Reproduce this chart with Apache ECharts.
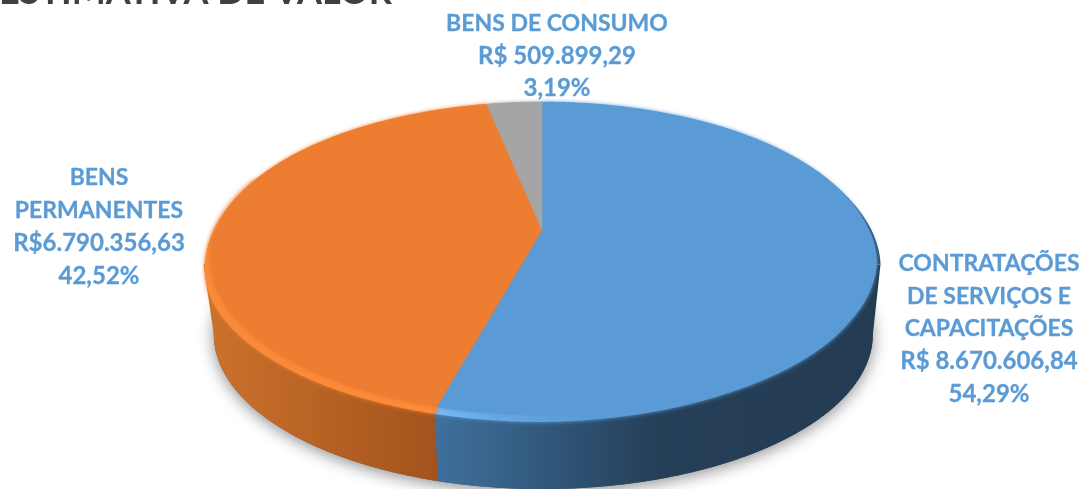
<!DOCTYPE html>
<html>
<head>
<meta charset="utf-8">
<style>
  html, body { margin: 0; padding: 0; background: #fff; }
  #chart { width: 1081px; height: 489px; }
</style>
</head>
<body>
<div id="chart"></div>
<script src="https://cdn.jsdelivr.net/npm/echarts@6/dist/echarts.min.js"></script>
<script>
// valores
const categories = ['CONTRATAÇÕES\nDE SERVIÇOS E\nCAPACITAÇÕES', 'BENS DE CONSUMO', 'BENS\nPERMANENTES'];
const values = [8670606.84, 509899.29, 6790356.63];
const valueLabels = ['R$ 8.670.606,84', 'R$ 509.899,29', 'R$6.790.356,63'];
const percentLabels = ['54,29%', '3,19%', '42,52%'];

// ordem de desenho no sentido horario a partir do topo: azul, laranja, cinza
const sliceOrder = [0, 2, 1];

const faceColors = ['#5B9BD5', '#A5A5A5', '#ED7D31'];
const rimColors = [
  [[0, '#78BCFA'], [0.15, '#66A9E6'], [0.35, '#5B9BD5'], [1, '#5B9BD5']],
  [[0, '#A5A5A5'], [1, '#A5A5A5']],
  [[0, '#F98A39'], [1, '#FF8C3A']]
];
const wallColors = [
  [[0, '#40709E'], [0.28, '#2F5577'], [0.5, '#263F58'], [1, '#233C52']],
  [[0, '#7A7A7A'], [1, '#6A6A6A']],
  [[0, '#CC722C'], [1, '#A2521C']]
];
const labelAnchors = [[989, 329], [557, 56], [99, 227]];

// disco em perspectiva
const CX = 542, CY = 230;
const A = 326, B = 151.3, K = 0.182;
const DEG = Math.PI / 180;

function project(angle, sx, sy, dy) {
  const u = Math.sin(angle), v = -Math.cos(angle);
  const d = 1 - K * v;
  return [CX + A * sx * u / d, CY + dy + B * sy * v / d];
}

function arc(a0, a1, sx, sy, dy) {
  const pts = [];
  const n = Math.max(2, Math.ceil((a1 - a0) / 0.01));
  for (let i = 0; i <= n; i++) {
    pts.push(project(a0 + (a1 - a0) * i / n, sx, sy, dy));
  }
  return pts;
}

function bottomArc(a0, a1) {
  const pts = [];
  const n = Math.max(2, Math.ceil((a1 - a0) / 0.01));
  for (let i = 0; i <= n; i++) {
    const a = a0 + (a1 - a0) * i / n;
    pts.push(project(a, Math.sin(a) > 0 ? 0.998 : 0.99, 0.99, 76));
  }
  return pts;
}

function clamp01(t) {
  return Math.max(0, Math.min(1, t));
}

// deslocamento do friso em cada angulo: some aos poucos na parte de tras
function rimPoint(a) {
  if (a < Math.PI) {
    const fade = clamp01((a - 50 * DEG) / (40 * DEG));
    const grow = 0.01 * fade * clamp01((120 * DEG - a) / (20 * DEG));
    const dy = fade * (5 + 2 * clamp01((a - 150 * DEG) / (30 * DEG)));
    return project(a, 1 + grow, 1, dy);
  }
  const t = clamp01((300 * DEG - a) / (50 * DEG));
  return project(a, 1 + 0.021 * t, 1, 7 * t);
}

function rimArc(a0, a1) {
  const pts = [];
  const n = Math.max(2, Math.ceil((a1 - a0) / 0.01));
  for (let i = 0; i <= n; i++) {
    pts.push(rimPoint(a0 + (a1 - a0) * i / n));
  }
  return pts;
}

function gradient(stops, x0, x1) {
  return {
    type: 'linear', global: true, x: x0, y: 0, x2: x1, y2: 0,
    colorStops: stops.map(s => ({offset: s[0], color: s[1]}))
  };
}

const total = values.reduce((s, v) => s + v, 0);
const sliceAngles = {};
let acc = 0;
sliceOrder.forEach(i => {
  const a0 = acc / total * Math.PI * 2;
  acc += values[i];
  sliceAngles[i] = [a0, acc / total * Math.PI * 2];
});

// pontos de maior largura do disco, onde a parede aparece
const FRONT0 = Math.acos(-K), FRONT1 = Math.PI * 2 - FRONT0;

function renderBase(params, api) {
  const children = [];
  // sombra
  children.push({
    type: 'polygon',
    shape: {points: bottomArc(0, Math.PI * 2)},
    style: {fill: '#555', shadowBlur: 16, shadowColor: 'rgba(0,0,0,0.45)', shadowOffsetY: 3}
  });
  // paredes: a borda de cima passa por dentro do friso, so as pontas ficam na silhueta
  sliceOrder.forEach(i => {
    const a0 = Math.max(sliceAngles[i][0], FRONT0);
    const a1 = Math.min(sliceAngles[i][1], FRONT1);
    if (a1 <= a0) return;
    const upper = [project(a0, 1.021, 1, 6)]
      .concat(arc(a0, a1, 0.93, 0.93, 6))
      .concat([project(a1, 1.021, 1, 6)]);
    const lower = bottomArc(a0, a1).reverse();
    const xs = upper.concat(lower).map(p => p[0]);
    children.push({
      type: 'polygon',
      shape: {points: upper.concat(lower)},
      style: {fill: gradient(wallColors[i], Math.min.apply(null, xs), Math.max.apply(null, xs))}
    });
  });
  // filete escuro na borda direita, atras do tampo
  const backPts = [];
  for (let a = 40 * DEG; a <= FRONT0; a += 0.01) {
    const t = (a - 40 * DEG) / (FRONT0 - 40 * DEG);
    backPts.push(project(a, 1 + 0.021 * t, 1, 6 * t));
  }
  backPts.push(project(FRONT0, 1.021, 1, 6));
  children.push({
    type: 'polygon',
    shape: {points: backPts.concat([[CX, CY]])},
    style: {fill: '#2A4A66'}
  });
  // friso na borda
  sliceOrder.forEach(i => {
    const a0 = sliceAngles[i][0], a1 = sliceAngles[i][1];
    const outer = rimArc(a0, a1);
    const xs = outer.map(p => p[0]);
    children.push({
      type: 'polygon',
      shape: {points: outer.concat([[CX, CY]])},
      style: {
        fill: gradient(rimColors[i], Math.min.apply(null, xs), Math.max.apply(null, xs)),
        shadowBlur: 4,
        shadowColor: faceColors[i]
      }
    });
  });
  // brilho macio entre friso e tampo
  sliceOrder.forEach(i => {
    const a0 = Math.max(sliceAngles[i][0], 110 * DEG);
    const a1 = Math.min(sliceAngles[i][1], 290 * DEG);
    if (a1 <= a0) return;
    children.push({
      type: 'polygon',
      shape: {points: arc(a0, a1, 1, 1, 0).concat([[CX, CY]])},
      style: {fill: faceColors[i], shadowBlur: 6, shadowColor: faceColors[i]}
    });
  });
  // tampo
  sliceOrder.forEach(i => {
    const a0 = sliceAngles[i][0], a1 = sliceAngles[i][1];
    children.push({
      type: 'polygon',
      shape: {points: arc(a0, a1, 1, 1, 0).concat([[CX, CY]])},
      style: {fill: faceColors[i], stroke: faceColors[i], lineWidth: 0.6}
    });
  });
  return {type: 'group', children: children};
}

function renderLabels(params, api) {
  const i = params.dataIndex;
  return {
    type: 'text',
    x: labelAnchors[i][0],
    y: labelAnchors[i][1],
    style: {
      text: categories[i].split('\n').map(s => '{cat|' + s + '}').join('\n') +
        '\n{num|' + valueLabels[i] + '}\n{num|' + percentLabels[i] + '}',
      fill: '#5B9BD5',
      stroke: '#5B9BD5',
      lineWidth: 0.3,
      align: 'center',
      verticalAlign: 'middle',
      rich: {
        cat: {font: 'bold 23px Lato', lineHeight: 32.7, fill: '#5B9BD5'},
        num: {font: 'bold 24px Lato', lineHeight: 32.7, fill: '#5B9BD5'}
      }
    }
  };
}

const chart = echarts.init(document.getElementById('chart'), null, {renderer: 'canvas'});
chart.setOption({
  backgroundColor: '#fff',
  animation: false,
  tooltip: {show: false},
  graphic: [{
    type: 'text',
    left: -1,
    top: -26,
    style: {text: 'ESTIMATIVA DE VALOR', fill: '#404040', font: 'bold 36px Lato'}
  }],
  series: [
    {type: 'custom', coordinateSystem: 'none', data: [0], renderItem: renderBase, silent: true},
    {type: 'custom', coordinateSystem: 'none', data: values, renderItem: renderLabels, silent: true}
  ]
});
</script>
</body>
</html>
